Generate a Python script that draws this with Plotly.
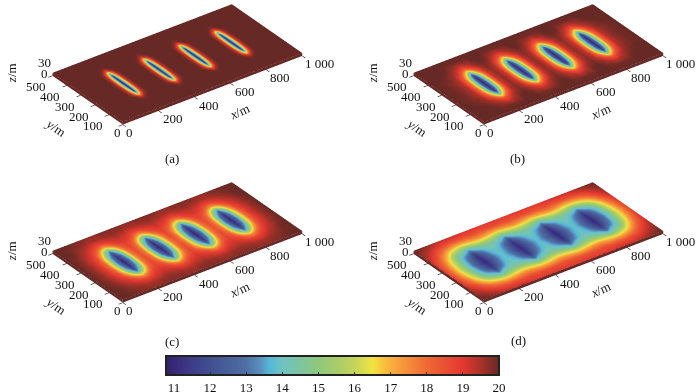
import plotly.graph_objects as go

# Half-domain nodes (field is symmetric about x=500 and y=250)
X_HALF = [0,50,90,120,150,170,185,200,215,230,250,270,300,330,350,370,385,400,415,430,450,475,500]
Y_HALF = [0,40,80,110,130,150,175,200,250]

PANEL_A = [
 [20]*23,
 [20]*23,
 [20]*23,
 [20,20,20,20,20,20,19.9,19.7,19.9,20,20,20,20,20,20,20,19.9,19.7,19.9,20,20,20,20],
 [20,20,20,20,20,19.9,19.4,18.4,19.4,19.9,20,20,20,20,20,19.9,19.4,18.4,19.4,19.9,20,20,20],
 [20,20,20,20,20,19.6,18.0,14.5,18.0,19.6,20,20,20,20,20,19.6,18.0,14.5,18.0,19.6,20,20,20],
 [20,20,20,20,20,19.4,16.8,11.6,16.8,19.4,20,20,20,20,20,19.4,16.8,11.6,16.8,19.4,20,20,20],
 [20,20,20,20,20,19.3,16.0,11.1,16.0,19.3,20,20,20,20,20,19.3,16.0,11.1,16.0,19.3,20,20,20],
 [20,20,20,20,20,19.2,15.5,11.0,15.5,19.2,20,20,20,20,20,19.2,15.5,11.0,15.5,19.2,20,20,20],
]
PANEL_B = [
 [20]*23,
 [20,20,20,20,19.9,19.9,19.9,19.9,19.9,19.9,19.9,20,20,20,19.9,19.9,19.9,19.9,19.9,19.9,19.9,20,20],
 [20,20,20,19.9,19.6,19.5,19.3,19.2,19.3,19.5,19.6,19.9,20,19.9,19.6,19.5,19.3,19.2,19.3,19.5,19.6,19.9,20],
 [20,20,19.9,19.7,19.4,18.9,18.5,18.2,18.5,18.9,19.4,19.7,19.9,19.7,19.4,18.9,18.5,18.2,18.5,18.9,19.4,19.7,19.9],
 [20,20,19.8,19.6,19.0,18.2,17.2,16.2,17.2,18.2,19.0,19.5,19.8,19.5,19.0,18.2,17.2,16.2,17.2,18.2,19.0,19.6,19.8],
 [20,19.9,19.8,19.5,18.6,17.2,15.6,13.6,15.6,17.2,18.6,19.4,19.8,19.4,18.6,17.2,15.6,13.6,15.6,17.2,18.6,19.5,19.8],
 [20,19.9,19.7,19.4,18.1,16.0,13.8,11.6,13.8,16.0,18.1,19.3,19.7,19.3,18.1,16.0,13.8,11.6,13.8,16.0,18.1,19.4,19.7],
 [20,19.9,19.7,19.3,17.8,15.2,13.0,11.1,13.0,15.2,17.8,19.2,19.7,19.2,17.8,15.2,13.0,11.1,13.0,15.2,17.8,19.3,19.7],
 [20,19.9,19.7,19.3,17.6,14.8,12.6,11.0,12.6,14.8,17.6,19.2,19.7,19.2,17.6,14.8,12.6,11.0,12.6,14.8,17.6,19.3,19.7],
]
PANEL_C = [
 [20,20,19.9,19.8,19.8,19.7,19.7,19.7,19.7,19.7,19.8,19.8,19.8,19.8,19.8,19.7,19.7,19.7,19.7,19.7,19.8,19.8,19.8],
 [20,19.9,19.8,19.7,19.6,19.5,19.5,19.5,19.5,19.5,19.6,19.6,19.7,19.6,19.6,19.5,19.5,19.5,19.5,19.5,19.6,19.6,19.7],
 [20,19.9,19.6,19.4,19.1,18.9,18.8,18.7,18.8,18.9,19.1,19.2,19.3,19.2,19.1,18.9,18.8,18.7,18.8,18.9,19.1,19.2,19.3],
 [20,19.8,19.4,19.1,18.6,18.0,17.6,17.3,17.6,18.0,18.6,18.9,19.1,18.9,18.6,18.0,17.6,17.3,17.6,18.0,18.6,18.9,19.1],
 [20,19.7,19.3,18.9,18.0,16.9,16.1,15.5,16.1,16.9,18.0,18.6,18.9,18.6,18.0,16.9,16.1,15.5,16.1,16.9,18.0,18.6,18.9],
 [20,19.7,19.2,18.7,17.3,15.6,14.5,13.2,14.5,15.6,17.3,18.3,18.8,18.3,17.3,15.6,14.5,13.2,14.5,15.6,17.3,18.3,18.8],
 [20,19.6,19.1,18.4,16.5,14.3,13.2,11.8,13.2,14.3,16.5,18.0,18.7,18.0,16.5,14.3,13.2,11.8,13.2,14.3,16.5,18.0,18.7],
 [20,19.6,19.0,18.2,15.9,13.5,12.5,11.2,12.5,13.5,15.9,17.8,18.6,17.8,15.9,13.5,12.5,11.2,12.5,13.5,15.9,17.9,18.6],
 [20,19.6,19.0,18.0,15.5,13.0,12.0,11.0,12.0,13.0,15.5,17.6,18.5,17.6,15.5,13.0,12.0,11.0,12.0,13.0,15.5,17.7,18.4],
]
PANEL_D = [
 [20,19.8,19.6,19.4,19.3,19.3,19.3,19.3,19.3,19.3,19.2,19.1,19.0,19.0,19.0,19.0,19.0,19.0,19.0,19.0,19.0,18.9,18.9],
 [19.8,19.4,19.0,18.8,18.6,18.5,18.5,18.5,18.5,18.5,18.5,18.5,18.6,18.5,18.5,18.5,18.5,18.5,18.5,18.5,18.5,18.5,18.6],
 [19.6,18.9,18.2,17.6,17.2,17.0,16.9,16.9,16.9,17.0,17.1,17.3,17.4,17.3,17.1,17.0,16.9,16.9,16.9,17.0,17.1,17.3,17.4],
 [19.4,18.5,17.3,16.4,15.8,15.5,15.3,15.2,15.3,15.5,15.7,15.9,16.0,15.9,15.7,15.5,15.3,15.2,15.3,15.5,15.7,15.9,16.0],
 [19.3,18.1,16.8,15.6,14.9,14.5,14.2,14.0,14.2,14.5,14.8,15.0,15.1,15.0,14.8,14.5,14.2,14.0,14.2,14.5,14.8,15.0,15.1],
 [19.2,17.8,16.2,14.9,14.2,13.8,13.4,12.8,13.4,13.8,14.1,14.3,14.5,14.3,14.1,13.8,13.4,12.8,13.4,13.8,14.1,14.3,14.5],
 [19.1,17.5,15.8,14.4,13.4,12.9,12.3,11.6,12.3,12.9,13.4,13.9,14.2,13.9,13.4,12.9,12.3,11.6,12.3,12.9,13.4,13.9,14.2],
 [19.0,17.2,15.5,14.1,13.0,12.3,11.8,11.2,11.8,12.3,13.0,13.6,14.0,13.6,13.0,12.3,11.8,11.2,11.8,12.3,13.0,13.6,14.0],
 [18.9,17.0,15.2,13.9,12.6,12.0,11.5,11.0,11.5,12.0,12.6,13.3,13.9,13.3,12.6,12.0,11.5,11.0,11.5,12.0,12.6,13.3,13.8],
]
PANELS = [PANEL_A, PANEL_B, PANEL_C, PANEL_D]
PANEL_LABELS = ["(a)", "(b)", "(c)", "(d)"]

X_TICKS = [0, 200, 400, 600, 800, 1000]
X_TICK_TEXT = ["0", "200", "400", "600", "800", "1 000"]
Y_TICKS = [0, 100, 200, 300, 400, 500]
Z_TICKS = [0, 30]
CB_TICKS = [11, 12, 13, 14, 15, 16, 17, 18, 19, 20]

VMIN, VMAX = 10.78, 20
CS_VALUES = [10.78, 11, 11.5, 12, 13, 13.4, 13.65, 14, 14.5, 15, 15.5, 16, 16.5, 16.8, 17.3, 18, 19, 19.5, 20]
CS_COLORS = ["#2f2560", "#38287a", "#3f3c8a", "#40508f", "#4f6fa5", "#5a90c0", "#55b8d8", "#6fc2c0",
             "#7cc4a0", "#8fc87c", "#a8cc6a", "#c3d45c", "#f0e442", "#f9c13c", "#f59a3c", "#ee6a34",
             "#e33830", "#a83228", "#672925"]
colorscale = [[(v - VMIN) / (VMAX - VMIN), c] for v, c in zip(CS_VALUES, CS_COLORS)]

x = X_HALF + [1000 - v for v in reversed(X_HALF[:-1])]
y = Y_HALF + [500 - v for v in reversed(Y_HALF[:-1])]

FONT = "Liberation Serif"
TXT = dict(family=FONT, size=13, color="#111")
fig = go.Figure()
W, H = 700, 392
SCENE_W, SCENE_H = 339, 170
SCENE_BOXES = [(0, 0), (361, 0), (0, 178), (361, 178)]
LABEL_POS = [(172, 159), (517, 159), (172, 341), (518, 340)]
CENTER = dict(x=-.074, y=.055, z=-.36)
EYE = dict(x=-1.403, y=-1.734, z=.979)
ASPECT = dict(x=2.63, y=1.39, z=.195)


def note(text, ax, ay, az, dx, dy, angle=0):
    return dict(text=text, x=ax, y=ay, z=az, xshift=dx, yshift=-dy, textangle=angle,
                showarrow=False, font=TXT, xanchor="center", yanchor="middle")


for i, p in enumerate(PANELS):
    rows = [r + r[-2::-1] for r in p]
    rows = rows + rows[-2::-1]
    scene = "scene" if i == 0 else f"scene{i+1}"
    fig.add_trace(go.Surface(
        x=x, y=y, z=[[0]*len(x) for _ in y], surfacecolor=rows, scene=scene,
        colorscale=colorscale, cmin=VMIN, cmax=VMAX, showscale=i == 0,
        lighting=dict(ambient=1, diffuse=0, specular=0, roughness=1, fresnel=0),
        hoverinfo="skip",
        colorbar=dict(orientation="h", x=166/W, xanchor="left", y=1-356/H, yanchor="top",
                      len=333/W, lenmode="fraction", thickness=19, outlinewidth=2, outlinecolor="#222",
                      tickvals=CB_TICKS, ticks="inside", ticklen=4, tickcolor="#333", xpad=0, ypad=0,
                      tickfont=dict(family=FONT, size=13, color="#111")),
    ))
    for front in (True, False):
        if front:
            sx, sy = [x, x], [[0]*len(x), [0]*len(x)]
            sz = [[-8]*len(x), [0]*len(x)]
            sc = [[20]*len(x), [20]*len(x)]
        else:
            sx = [[0, 0] for _ in y]
            sy = [[v, v] for v in y]
            sz = [[-8, 0] for _ in y]
            sc = [[20, 20] for _ in y]
        fig.add_trace(go.Surface(
            x=sx, y=sy, z=sz, surfacecolor=sc,
            scene=scene, colorscale=colorscale, cmin=VMIN, cmax=VMAX, showscale=False,
            lighting=dict(ambient=1, diffuse=0, specular=0), hoverinfo="skip",
        ))
    notes = []
    for v, t in zip(X_TICKS, X_TICK_TEXT):
        notes.append(note(t, v, 0, 0, 7 if v == 0 else (17 if v == 1000 else 14), 11))
    for v in Y_TICKS:
        notes.append(note(str(v), 0, v, 0, -5 if v == 0 else -16, 11 if v == 0 else 14))
    for v in Z_TICKS:
        notes.append(note(str(v), 0, 500, v, -8, 1))
    notes.append(note("<i>x</i>/m", 500, 0, 0, 27, 24, -25))
    notes.append(note("<i>y</i>/m", 0, 250, 0, -32, 30, 35))
    notes.append(note("<i>z</i>/m", 0, 500, 0, -41, 0, -90))
    bx, by = SCENE_BOXES[i]
    axis = dict(showbackground=False, showgrid=False, zeroline=False, showspikes=False,
                showline=False, ticks="outside", ticklen=5, tickcolor="#222", tickwidth=1.5,
                showticklabels=False, title=dict(text=""))
    fig.layout[scene] = dict(
        domain=dict(x=[bx/W, (bx+SCENE_W)/W], y=[1-(by+SCENE_H)/H, 1-by/H]),
        xaxis=dict(axis, range=[0, 1000], tickvals=X_TICKS),
        yaxis=dict(axis, range=[0, 500], tickvals=Y_TICKS),
        zaxis=dict(axis, range=[-8, 30], tickvals=Z_TICKS, ticks=""),
        aspectmode="manual", aspectratio=ASPECT,
        camera=dict(projection=dict(type="orthographic"), up=dict(x=0, y=0, z=1),
                    center=CENTER, eye=EYE),
        annotations=notes,
    )
    fig.add_annotation(text=PANEL_LABELS[i], x=LABEL_POS[i][0]/W, y=1-LABEL_POS[i][1]/H,
                       xref="paper", yref="paper", showarrow=False, font=TXT,
                       xanchor="center", yanchor="middle")

fig.update_layout(width=W, height=H, margin=dict(l=0, r=0, t=0, b=0, autoexpand=False),
                  paper_bgcolor="white", showlegend=False)
fig.write_html("out.html", config=dict(displayModeBar=False),
               post_script="document.body.style.margin='0';")
